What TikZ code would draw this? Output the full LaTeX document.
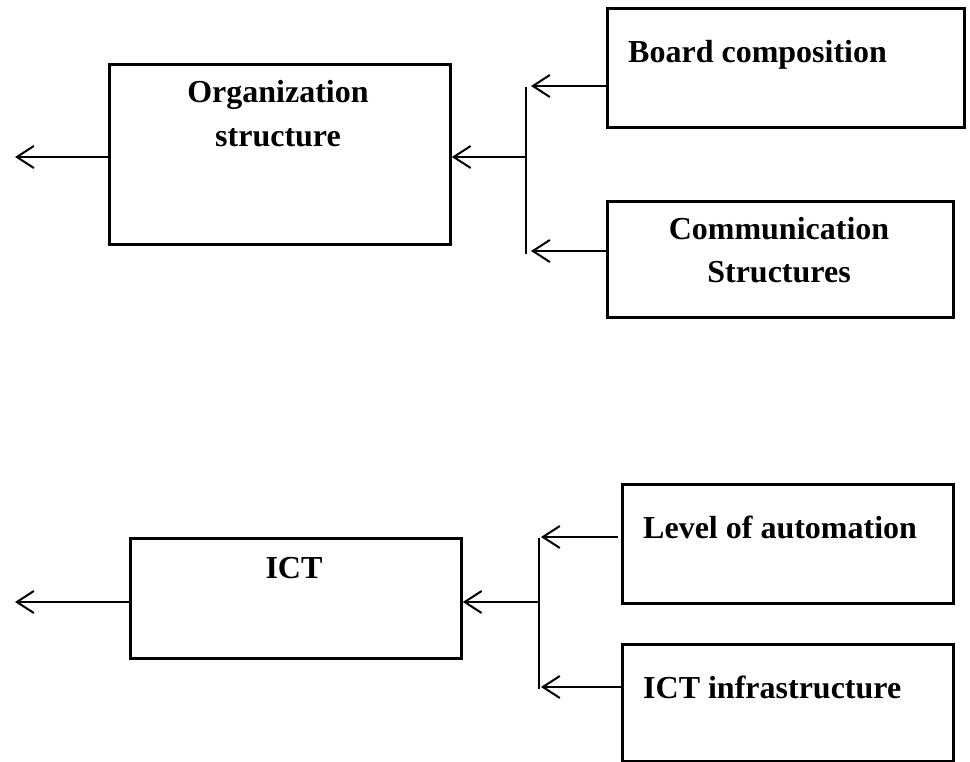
\documentclass[tikz,border=0pt]{standalone}
\usepackage{fontspec}
\setmainfont{Liberation Serif}
\usetikzlibrary{arrows.meta}
\begin{document}
\begin{tikzpicture}[x=1pt,y=-1pt,
  box/.style={draw, line width=2.8pt, inner sep=0pt, anchor=north west},
  txt/.style={inner sep=0pt, font=\fontsize{32}{38}\selectfont\bfseries},
  arr/.style={line width=2pt, -{Straight Barb[length=17pt,width=22pt]}},
  bar/.style={line width=1.5pt}]
\useasboundingbox (0,0) rectangle (970,762);
% boxes
\node[box, minimum width=341pt, minimum height=180pt] (org) at (108,63) {};
\node[box, minimum width=357pt, minimum height=119pt] (board) at (606,7) {};
\node[box, minimum width=346pt, minimum height=116pt] (comm) at (606,200) {};
\node[box, minimum width=331pt, minimum height=120pt] (ict) at (129,537) {};
\node[box, minimum width=331pt, minimum height=119pt] (level) at (621,483) {};
\node[box, minimum width=331pt, minimum height=117pt] (infra) at (621,643) {};
% texts
\node[txt, anchor=base] (orgA) at (278,103) {Organization};
\node[txt, anchor=base] (orgB) at (278,147) {structure};
\node[txt, anchor=base west] (boardT) at (628,63) {Board composition};
\node[txt, anchor=base] (commA) at (779,240) {Communication};
\node[txt, anchor=base] (commB) at (779,283) {Structures};
\node[txt, anchor=base] (ictT) at (294,578) {ICT};
\node[txt, anchor=base west] (levelT) at (643,538) {Level of automation};
\node[txt, anchor=base west] (infraT) at (643,698) {ICT infrastructure};
% top connectors
\coordinate (barTa) at (526,87);
\coordinate (barTb) at (526,254);
\coordinate (tipB) at (531,86);
\coordinate (tipC) at (531,251);
\coordinate (jo) at (526,157);
\coordinate (outO) at (15,157);
\draw[bar] (barTa) -- (barTb);
\draw[arr] (tipB -| board.west) -- (tipB);
\draw[arr] (tipC -| comm.west) -- (tipC);
\draw[arr] (jo) -- (jo -| org.east);
\draw[arr] (outO -| org.west) -- (outO);
% bottom connectors
\coordinate (barBa) at (539,538);
\coordinate (barBb) at (539,689);
\coordinate (tipL) at (541,537);
\coordinate (tipI) at (541,687);
\coordinate (ji) at (539,602);
\coordinate (outI) at (15,602);
\draw[bar] (barBa) -- (barBb);
\draw[arr] ([xshift=-3pt]tipL -| level.west) -- (tipL);
\draw[arr] (tipI -| infra.west) -- (tipI);
\draw[arr] (ji) -- (ji -| ict.east);
\draw[arr] (outI -| ict.west) -- (outI);
\end{tikzpicture}
\end{document}
